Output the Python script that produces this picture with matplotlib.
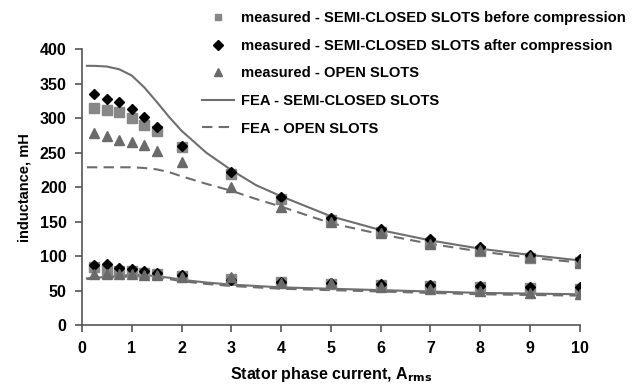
import numpy as np
import matplotlib
matplotlib.use('Agg')
import matplotlib.pyplot as plt
from matplotlib.lines import Line2D

plt.rcParams['font.family'] = ['Liberation Sans', 'DejaVu Sans']
plt.rcParams['font.weight'] = 'bold'

# measured points
current = [0.25, 0.5, 0.75, 1, 1.25, 1.5, 2, 3, 4, 5, 6, 7, 8, 9, 10]

sc_before_hi = [315, 312, 309, 301, 290, 282, 259, 220, 183, 153, 135, 120, 108, 98, 92]
sc_after_hi = [335, 328, 323, 313, 302, 288, 260, 222, 186, 156, 139, 125, 113, 102, 96]
open_hi = [278, 274, 269, 266, 262, 253, 236, 201, 172, 150, 134, 118, 109, 99, 90]

sc_before_lo = [84, 80, 79, 78, 76, 75, 72, 67, 63, 60, 58, 57, 55, 54, 53]
sc_after_lo = [87, 89, 83, 81, 79, 76, 73, 66, 63, 61, 60, 58, 57, 56, 56]
open_lo = [74, 74, 74, 74, 73, 73, 70, 70, 61, 62, 56, 52, 50, 47, 45]

# FEA curves
fea_x = [0.1, 0.25, 0.5, 0.75, 1, 1.25, 1.5, 1.75, 2, 2.5, 3, 3.5, 4, 5, 6, 7, 8, 9, 10]
fea_sc_hi = [376, 376, 375, 371, 362, 345, 324, 302, 282, 250, 225, 203, 187, 158, 138, 123, 111, 102, 94]
fea_open_hi = [229, 229, 229, 229, 229, 228, 226, 222, 216, 205, 195, 183, 172, 148, 132, 118, 107, 98, 91]
fea_sc_lo = [68, 69, 70, 72, 73, 73, 71, 69, 66, 62, 59, 57, 55, 53, 51, 49, 47, 46, 45]
fea_open_lo = [67, 68, 69, 70, 71, 71, 69, 67, 64, 60, 57, 55, 53, 51, 49, 47, 45, 44, 43]

labels = ['measured - SEMI-CLOSED SLOTS before compression',
          'measured - SEMI-CLOSED SLOTS after compression',
          'measured - OPEN SLOTS',
          'FEA - SEMI-CLOSED SLOTS',
          'FEA - OPEN SLOTS']

sq_col = '#878787'
tri_col = '#6a6a6a'
line_col = '#6e6e6e'

fig = plt.figure(figsize=(6.4, 3.85), dpi=100)
ax = fig.add_axes([0.128, 0.155, 0.778, 0.717])

ax.plot(fea_x, fea_sc_hi, '-', color=line_col, lw=1.5)
ax.plot(fea_x, fea_open_hi, '--', color=line_col, lw=1.5, dashes=(5, 3))
ax.plot(fea_x, fea_sc_lo, '-', color=line_col, lw=1.5)
ax.plot(fea_x, fea_open_lo, '--', color=line_col, lw=1.5, dashes=(5, 3))

for ys in (sc_before_hi, sc_before_lo):
    ax.plot(current, ys, 's', color=sq_col, ms=6.5, ls='none')
for ys in (sc_after_hi, sc_after_lo):
    ax.plot(current, ys, 'D', color='black', ms=5.5, ls='none')
for ys in (open_hi, open_lo):
    ax.plot(current, ys, '^', color=tri_col, ms=7.5, ls='none')

ax.set_xlim(0, 10)
ax.set_ylim(0, 400)
ax.set_xticks(range(0, 11))
ax.set_yticks(range(0, 401, 50))
ax.spines['top'].set_visible(False)
ax.spines['right'].set_visible(False)
for s in ('left', 'bottom'):
    ax.spines[s].set_color('#555555')
    ax.spines[s].set_linewidth(1.2)
ax.tick_params(axis='both', labelsize=11.5, direction='out', length=5, color='#555555', width=1.2, pad=6)
for t in ax.get_xticklabels() + ax.get_yticklabels():
    t.set_fontweight('bold')

ax.set_xlabel('Stator phase current, A$_{\\mathbf{rms}}$', fontsize=11.5, fontweight='bold', labelpad=7)
ax.set_ylabel('inductance, mH', fontsize=10.5, fontweight='bold', labelpad=6)

handles = [
    Line2D([], [], marker='s', color=sq_col, ls='none', ms=5),
    Line2D([], [], marker='D', color='black', ls='none', ms=5),
    Line2D([], [], marker='^', color=tri_col, ls='none', ms=6),
    Line2D([], [], color=line_col, lw=1.5),
    Line2D([], [], color=line_col, lw=1.5, ls='--', dashes=(5, 3)),
]
fig.legend(handles, labels, loc='upper left', bbox_to_anchor=(0.295, 1.005),
           frameon=False, prop={'size': 10.6, 'weight': 'bold'},
           handlelength=2.2, handletextpad=0.45, labelspacing=0.92)

fig.savefig('out.png', dpi=100)
